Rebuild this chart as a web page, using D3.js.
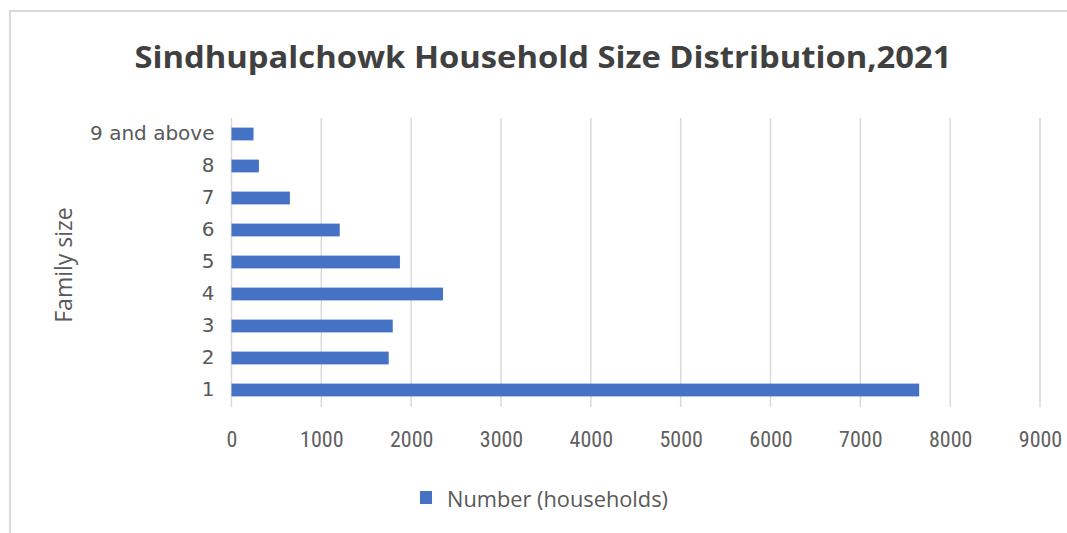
<!DOCTYPE html>
<html>
<head>
<meta charset="utf-8">
<script src="https://cdn.jsdelivr.net/npm/d3@7"></script>
<style>
  body { margin: 0; background: #fff; }
</style>
</head>
<body>
<svg id="chart" width="1067" height="533"></svg>
<script>
// chart data
const categories = ["9 and above", "8", "7", "6", "5", "4", "3", "2", "1"];
const households = [245, 305, 650, 1205, 1875, 2355, 1795, 1750, 7655];
const xTicks = [0, 1000, 2000, 3000, 4000, 5000, 6000, 7000, 8000, 9000];
const seriesName = "Number (households)";

const svg = d3.select("#chart");
const plotLeft = 231.5, plotRight = 1040, plotTop = 118, plotBottom = 406;

// chart frame
svg.append("rect")
  .attr("x", 10).attr("y", 11)
  .attr("width", 1080).attr("height", 540)
  .attr("fill", "#fff")
  .attr("stroke", "#d9d9d9")
  .attr("stroke-width", 2);

// title
svg.append("text")
  .attr("x", 543).attr("y", 68)
  .attr("text-anchor", "middle")
  .attr("textLength", 817)
  .attr("lengthAdjust", "spacingAndGlyphs")
  .style("font-family", "'Open Sans', sans-serif")
  .style("font-weight", "bold")
  .style("font-size", "31px")
  .style("fill", "#404040")
  .text("Sindhupalchowk Household Size Distribution,2021");

const x = d3.scaleLinear()
  .domain([0, 9000])
  .range([plotLeft, plotRight]);

const y = d3.scaleBand()
  .domain(categories)
  .range([plotTop, plotBottom])
  .paddingInner(0.6)
  .paddingOuter(0.3);

// gridlines
svg.append("g")
  .selectAll("line")
  .data(xTicks)
  .enter()
  .append("line")
    .attr("x1", d => x(d)).attr("x2", d => x(d))
    .attr("y1", plotTop).attr("y2", plotBottom + 1)
    .attr("stroke", "#d9d9d9")
    .attr("stroke-width", 1.5);

// x axis labels
const xAxis = svg.append("g")
  .attr("transform", "translate(0," + (plotBottom + 12) + ")")
  .call(d3.axisBottom(x).tickValues(xTicks).tickSize(0).tickPadding(13).tickFormat(d3.format("d")));
xAxis.select(".domain").remove();
xAxis.selectAll("text")
  .style("font-family", "'Liberation Sans Narrow', 'Roboto Condensed', sans-serif")
  .style("font-size", "22px")
  .style("fill", "#606060");

// y axis labels
const yAxis = svg.append("g")
  .attr("transform", "translate(" + plotLeft + ",0)")
  .call(d3.axisLeft(y).tickSize(0).tickPadding(17));
yAxis.select(".domain").remove();
yAxis.selectAll("text")
  .style("font-family", "'DejaVu Sans', sans-serif")
  .style("font-size", "20px")
  .style("fill", "#595959");

// y axis title
svg.append("text")
  .attr("transform", "translate(72,265) rotate(-90)")
  .attr("text-anchor", "middle")
  .style("font-family", "'Open Sans', sans-serif")
  .style("font-size", "23px")
  .style("fill", "#595959")
  .text("Family size");

// bars
svg.selectAll("bars")
  .data(categories.map((c, i) => ({ cat: c, value: households[i] })))
  .enter()
  .append("rect")
    .attr("x", x(0))
    .attr("y", d => y(d.cat))
    .attr("width", d => x(d.value) - x(0))
    .attr("height", y.bandwidth())
    .attr("fill", "#4472c4");

// legend
const legend = svg.append("g").attr("transform", "translate(420,491)");
legend.append("rect")
  .attr("width", 12).attr("height", 13)
  .attr("fill", "#4472c4");
legend.append("text")
  .attr("x", 27).attr("y", 16)
  .attr("textLength", 221)
  .attr("lengthAdjust", "spacingAndGlyphs")
  .style("font-family", "'Liberation Sans Narrow', 'Open Sans', sans-serif")
  .style("font-size", "22px")
  .style("fill", "#595959")
  .text(seriesName);
</script>
</body>
</html>
